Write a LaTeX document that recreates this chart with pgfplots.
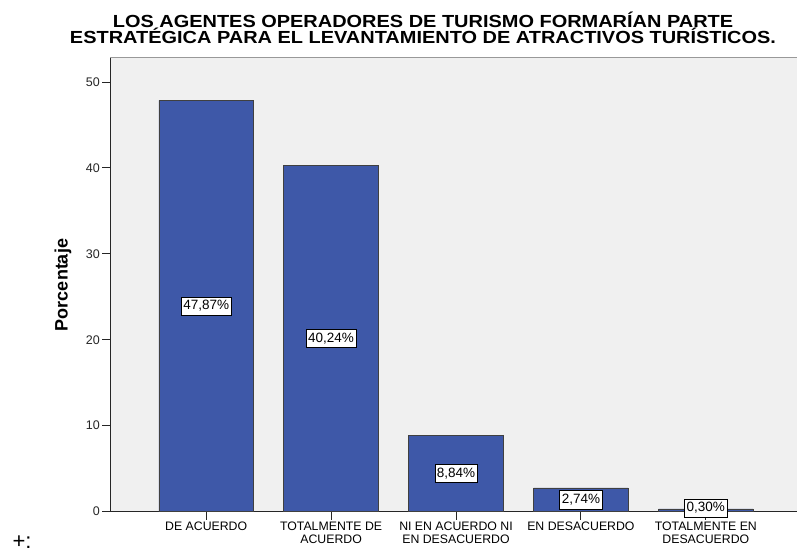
\documentclass[border=0pt]{standalone}
\usepackage{fontspec}
\setmainfont{Liberation Sans}
\newfontfamily\titlefont[FakeStretch=1.14]{Liberation Sans}
\usepackage{pgfplots}
\pgfplotsset{compat=1.18}
\definecolor{barblue}{RGB}{62,88,168}
\definecolor{plotbg}{RGB}{240,240,240}
\begin{document}
\begin{tikzpicture}
\useasboundingbox (0pt,0pt) rectangle (797pt,554pt);
\begin{axis}[
  at={(110pt,42.5pt)}, anchor=south west,
  scale only axis, width=687pt, height=453.5pt,
  xmin=-0.77, xmax=4.73, ymin=0, ymax=52.8,
  axis x line*=bottom, axis y line*=left,
  axis line style={black!85, line width=1pt, -},
  axis background/.style={fill=plotbg},
  ytick={0,10,20,30,40,50},
  xtick={0,1,2,3,4},
  xticklabels={DE ACUERDO, {TOTALMENTE DE\\ACUERDO}, {NI EN ACUERDO NI\\EN DESACUERDO}, EN DESACUERDO, {TOTALMENTE EN\\DESACUERDO}},
  xticklabel style={align=center, font=\fontsize{12.3}{12.8}\selectfont, text=black, inner sep=2pt},
  yticklabel style={font=\fontsize{12.5}{14}\selectfont, text=black!85, inner sep=2pt},
  /pgf/number format/assume math mode=true,
  tick align=outside,
  major tick length=8pt,
  tick style={black!85, line width=0.9pt},
]
\addplot[ybar, bar width=0.757, fill=barblue, draw=black!75, line width=0.8pt]
  coordinates {(0,47.87) (1,40.24) (2,8.84) (3,2.74) (4,0.30)};
\addplot[draw=none, mark=none, nodes near coords, point meta=explicit symbolic,
  nodes near coords style={fill=white, draw=black, line width=0.6pt, inner xsep=2pt, inner ysep=3.5pt, anchor=center, font=\fontsize{13.5}{15}\selectfont, text=black}]
  coordinates {(0,23.935) [47{,}87\%] (1,20.12) [40{,}24\%] (2,4.42) [8{,}84\%] (3,1.37) [2{,}74\%] (4,0.4) [0{,}30\%]};
\end{axis}
\draw[black!40, line width=1pt] (110pt,496pt) -- (797pt,496pt);
\node[anchor=base, font=\titlefont\bfseries\fontsize{17.5}{18}\selectfont] at (423pt,526.5pt) {LOS AGENTES OPERADORES DE TURISMO FORMARÍAN PARTE};
\node[anchor=base, font=\titlefont\bfseries\fontsize{17.5}{18}\selectfont] at (423pt,510pt) {ESTRATÉGICA PARA EL LEVANTAMIENTO DE ATRACTIVOS TURÍSTICOS.};
\node[rotate=90, font=\bfseries\fontsize{18}{20}\selectfont] at (63pt,269pt) {Porcentaje};
\node[font=\fontsize{22}{24}\selectfont] at (22pt,12pt) {+:};
\end{tikzpicture}
\end{document}
